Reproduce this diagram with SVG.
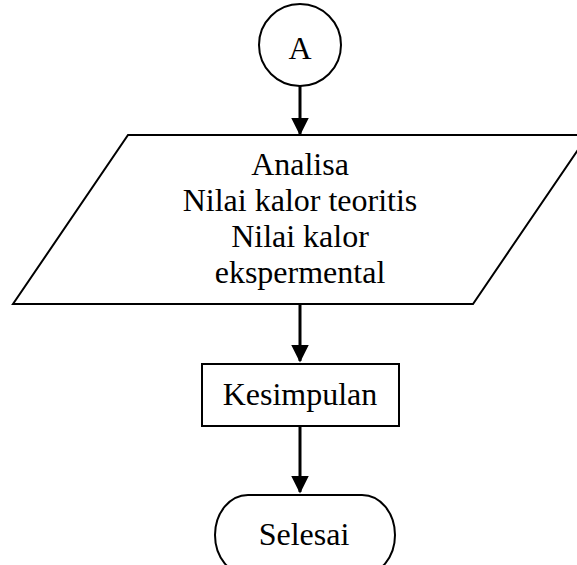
<svg xmlns="http://www.w3.org/2000/svg" width="577" height="565" viewBox="0 0 577 565">
  <defs>
    <marker id="ah" markerWidth="6" markerHeight="6" refX="5.5" refY="3" orient="auto" markerUnits="strokeWidth">
      <path d="M0,0 L6,3 L0,6 Z" fill="#000"/>
    </marker>
    <style>
      .shape { fill: #fff; stroke: #000; stroke-width: 2; }
      .lbl { font-family: "Liberation Serif", "Times New Roman", serif; font-size: 32px; fill: #000; text-anchor: middle; }
      .conn { stroke: #000; stroke-width: 3; fill: none; marker-end: url(#ah); }
    </style>
  </defs>
  <rect width="577" height="565" fill="#fff"/>
  <g id="connectors">
    <line class="conn" x1="300" y1="86" x2="300" y2="134"/>
    <line class="conn" x1="300" y1="305" x2="300" y2="361"/>
    <line class="conn" x1="300" y1="427" x2="300" y2="492"/>
  </g>
  <g id="node-a">
    <circle class="shape" cx="300" cy="45" r="41"/>
    <text class="lbl" x="300" y="59">A</text>
  </g>
  <g id="node-analisa">
    <polygon class="shape" points="128,135 588,135 473,304 13,304"/>
    <text class="lbl" x="300" y="175">Analisa</text>
    <text class="lbl" x="300" y="211">Nilai kalor teoritis</text>
    <text class="lbl" x="300" y="247">Nilai kalor</text>
    <text class="lbl" x="300" y="283">ekspermental</text>
  </g>
  <g id="node-kesimpulan">
    <rect class="shape" x="202" y="364" width="197" height="62"/>
    <text class="lbl" x="300" y="405">Kesimpulan</text>
  </g>
  <g id="node-selesai">
    <rect class="shape" x="215" y="495" width="180" height="80" rx="33" ry="40"/>
    <text class="lbl" x="304" y="545">Selesai</text>
  </g>
</svg>
